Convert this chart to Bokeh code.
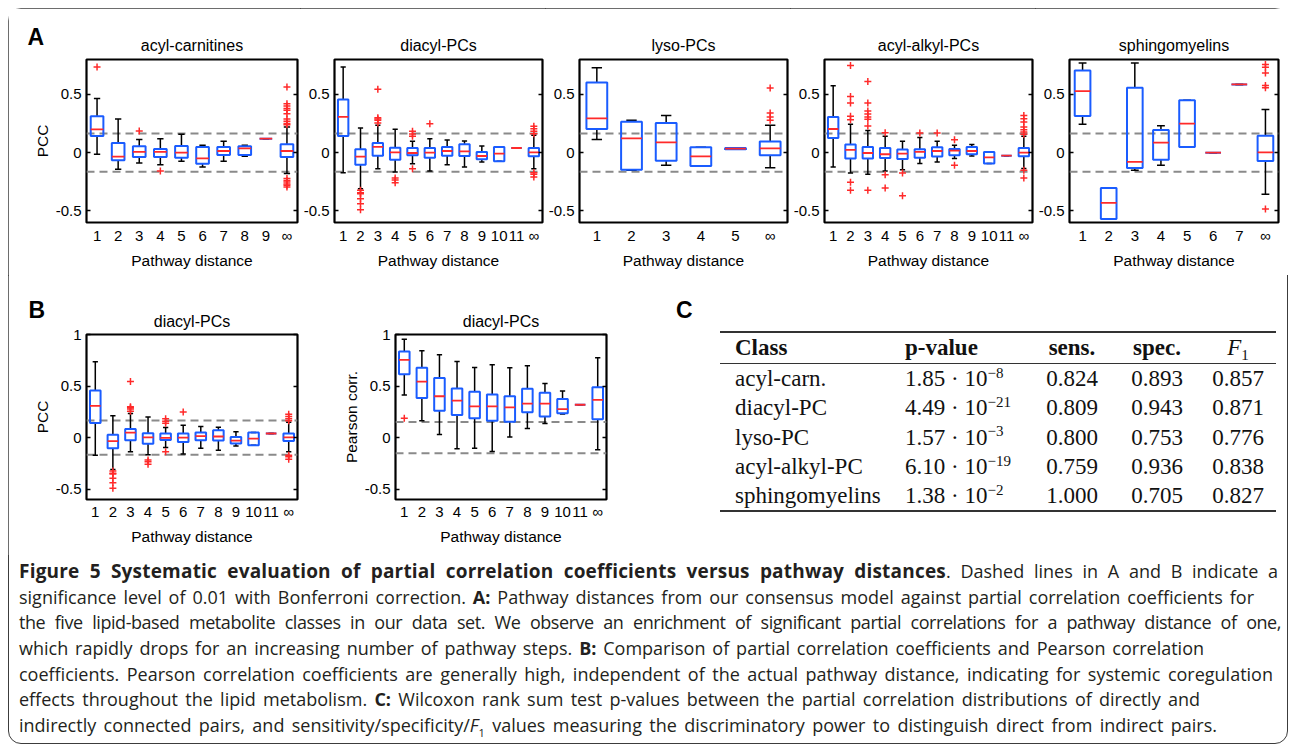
import numpy as np
from bokeh.plotting import figure
from bokeh.models import Range1d, FixedTicker, LinearAxis, Span, Title, Div
from bokeh.layouts import row, column
from bokeh.embed import file_html
from bokeh.resources import INLINE

# ---------------- data ----------------
PCC_SIG = 0.165          # Bonferroni significance level (PCC)
PEARSON_SIG = 0.152      # Bonferroni significance level (Pearson)

# acyl-carnitines (PCC)
AC_LABELS = ["1", "2", "3", "4", "5", "6", "7", "8", "9", "∞"]
AC_WLO = [-0.014, -0.143, -0.089, -0.103, -0.074, -0.123, -0.074, -0.032, 0.12, -0.18]
AC_Q1 = [0.143, -0.066, -0.037, -0.037, -0.043, -0.095, -0.020, -0.020, 0.12, -0.037]
AC_MED = [0.200, -0.034, 0.006, 0.006, 0.000, -0.049, 0.014, 0.037, 0.12, 0.014]
AC_Q3 = [0.312, 0.083, 0.054, 0.032, 0.057, 0.049, 0.049, 0.054, 0.12, 0.072]
AC_WHI = [0.464, 0.289, 0.112, 0.120, 0.158, 0.063, 0.097, 0.063, 0.12, 0.22]
AC_OUT_X = [1, 3, 4, 10, 10, 10, 10, 10, 10, 10, 10, 10, 10, 10, 10, 10, 10, 10, 10]
AC_OUT_Y = [0.736, 0.186, -0.158, 0.564, 0.42, 0.40, 0.38, 0.364, 0.335, 0.29, 0.27,
            0.25, 0.24, -0.223, -0.24, -0.252, -0.27, -0.28, -0.295]

# diacyl-PCs (PCC)
DP_LABELS = ["1", "2", "3", "4", "5", "6", "7", "8", "9", "10", "11", "∞"]
DP_WLO = [-0.172, -0.31, -0.138, -0.166, -0.095, -0.158, -0.103, -0.123, -0.08, -0.074, 0.04, -0.138]
DP_Q1 = [0.143, -0.103, -0.026, -0.060, -0.023, -0.043, -0.026, -0.029, -0.057, -0.074, 0.04, -0.032]
DP_MED = [0.307, -0.034, 0.049, 0.003, -0.003, 0.000, 0.014, 0.011, -0.029, -0.009, 0.04, 0.003]
DP_Q3 = [0.456, 0.029, 0.083, 0.043, 0.040, 0.040, 0.049, 0.072, 0.006, 0.049, 0.04, 0.040]
DP_WHI = [0.736, 0.212, 0.235, 0.200, 0.097, 0.120, 0.109, 0.100, 0.057, 0.049, 0.04, 0.149]
DP_OUT_X = [2, 2, 2, 2, 2, 2, 3, 3, 3, 3, 3, 4, 4, 4, 5, 5, 5, 5, 6, 12, 12, 12, 12, 12, 12, 12]
DP_OUT_Y = [-0.324, -0.345, -0.352, -0.395, -0.438, -0.49, 0.544, 0.30, 0.29, 0.278, 0.255,
            -0.218, -0.235, -0.258, 0.183, 0.16, 0.14, -0.138, 0.249,
            0.226, 0.206, 0.183, 0.163, -0.172, -0.186, -0.209]

# lyso-PCs (PCC)
LP_LABELS = ["1", "2", "3", "4", "5", "∞"]
LP_WLO = [0.112, -0.152, -0.109, -0.115, 0.030, -0.129]
LP_Q1 = [0.203, -0.146, -0.069, -0.115, 0.030, -0.023]
LP_MED = [0.295, 0.123, 0.089, -0.032, 0.035, 0.037]
LP_Q3 = [0.603, 0.266, 0.255, 0.046, 0.040, 0.095]
LP_WHI = [0.730, 0.278, 0.318, 0.046, 0.040, 0.235]
LP_OUT_X = [6, 6, 6, 6]
LP_OUT_Y = [0.556, 0.341, 0.307, 0.278]

# acyl-alkyl-PCs (PCC)
AA_LABELS = ["1", "2", "3", "4", "5", "6", "7", "8", "9", "10", "11", "∞"]
AA_WLO = [-0.123, -0.174, -0.186, -0.157, -0.146, -0.094, -0.080, -0.051, -0.029, -0.094, -0.026, -0.137]
AA_Q1 = [0.126, -0.051, -0.051, -0.046, -0.054, -0.043, -0.034, -0.023, -0.014, -0.094, -0.026, -0.031]
AA_MED = [0.203, 0.023, -0.003, -0.014, -0.009, 0.006, 0.014, 0.017, 0.014, -0.040, -0.026, 0.000]
AA_Q3 = [0.306, 0.071, 0.049, 0.040, 0.026, 0.029, 0.046, 0.031, 0.049, 0.006, -0.026, 0.040]
AA_WHI = [0.574, 0.243, 0.191, 0.140, 0.097, 0.129, 0.097, 0.063, 0.071, 0.006, -0.026, 0.140]
AA_OUT_X = [2, 2, 2, 2, 2, 2, 2, 3, 3, 3, 3, 3, 3, 3, 3, 4, 4, 4, 5, 5, 6, 7, 8, 8,
            12, 12, 12, 12, 12, 12, 12, 12, 12]
AA_OUT_Y = [0.749, 0.483, 0.426, 0.312, 0.283, -0.254, -0.323,
            0.611, 0.426, 0.357, 0.331, 0.306, 0.286, 0.229, -0.323,
            0.171, -0.189, -0.303, -0.174, -0.371, 0.169, 0.169, 0.111, -0.109,
            0.32, 0.291, 0.263, 0.22, 0.197, 0.177, 0.157, -0.151, -0.217]

# sphingomyelins (PCC)
SM_LABELS = ["1", "2", "3", "4", "5", "6", "7", "∞"]
SM_WLO = [0.243, -0.571, -0.151, -0.109, 0.049, 0.0, 0.586, -0.357]
SM_Q1 = [0.314, -0.571, -0.131, -0.060, 0.049, 0.0, 0.586, -0.071]
SM_MED = [0.529, -0.431, -0.080, 0.086, 0.249, 0.0, 0.586, 0.003]
SM_Q3 = [0.706, -0.303, 0.557, 0.194, 0.449, 0.0, 0.586, 0.146]
SM_WHI = [0.771, -0.303, 0.771, 0.231, 0.449, 0.0, 0.586, 0.371]
SM_OUT_X = [8, 8, 8, 8, 8, 8]
SM_OUT_Y = [0.757, 0.734, 0.683, 0.577, 0.557, -0.483]

# diacyl-PCs (Pearson correlation)
PE_LABELS = ["1", "2", "3", "4", "5", "6", "7", "8", "9", "10", "11", "∞"]
PE_WLO = [0.414, 0.164, 0.030, -0.109, -0.102, -0.135, 0.007, 0.089, 0.138, 0.230, 0.319, -0.118]
PE_Q1 = [0.615, 0.385, 0.260, 0.220, 0.188, 0.164, 0.155, 0.247, 0.204, 0.237, 0.319, 0.177]
PE_MED = [0.753, 0.543, 0.401, 0.359, 0.303, 0.303, 0.293, 0.329, 0.329, 0.276, 0.319, 0.367]
PE_Q3 = [0.836, 0.678, 0.579, 0.477, 0.444, 0.418, 0.401, 0.474, 0.434, 0.375, 0.319, 0.489]
PE_WHI = [0.954, 0.842, 0.803, 0.737, 0.681, 0.707, 0.678, 0.697, 0.526, 0.451, 0.319, 0.774]
PE_OUT_X = [1]
PE_OUT_Y = [0.188]

# table C
TAB_CLASS = ["acyl-carn.", "diacyl-PC", "lyso-PC", "acyl-alkyl-PC", "sphingomyelins"]
TAB_P_MANT = ["1.85", "4.49", "1.57", "6.10", "1.38"]
TAB_P_EXP = ["−8", "−21", "−3", "−19", "−2"]
TAB_SENS = ["0.824", "0.809", "0.800", "0.759", "1.000"]
TAB_SPEC = ["0.893", "0.943", "0.753", "0.936", "0.705"]
TAB_F1 = ["0.857", "0.871", "0.776", "0.838", "0.827"]

# ---------------- style ----------------
BLUE = "#1a5cff"
RED = "#ff2a2a"
GRAY = "#8a8a8a"
FONT = "Liberation Sans"
BOXW = 0.6
CAPW = 0.3
A_YLIM = (-0.6, 0.8)
A_TICKS = [-0.5, 0, 0.5]
B_YLIM = (-0.6, 1.0)
B_TICKS = [-0.5, 0, 0.5, 1]
TICK_TEXT = {-0.5: "-0.5", 0: "0", 0.5: "0.5", 1: "1"}


def box_fig(title, labels, wlo, q1, med, q3, whi, ox, oy, ylim, yticks, sig,
            width, height, bl, br, bt, bb, ylabel=None,
            title_standoff=8, tick_standoff=5, xlabel_standoff=8,
            letter=None, letter_offset=0, letter_standoff=0):
    n = len(labels)
    x = np.arange(1, n + 1, dtype=float)
    wlo, q1, med, q3, whi = map(np.asarray, (wlo, q1, med, q3, whi))
    p = figure(width=width, height=height, x_range=Range1d(0.5, n + 0.5),
               y_range=Range1d(ylim[0], ylim[1]), output_backend="svg",
               toolbar_location=None, min_border_left=bl, min_border_right=br,
               min_border_top=bt, min_border_bottom=bb,
               title=letter if letter else None)
    # subplot title (closest to the frame)
    p.add_layout(Title(text=title, align="center", text_font=FONT, text_font_size="16px",
                       text_font_style="normal", text_color="black",
                       standoff=title_standoff), "above")
    # panel letter as the (outermost) plot title, pulled down next to the subplot title
    if letter:
        p.title.align = "left"
        p.title.offset = letter_offset
        p.title.standoff = letter_standoff
        p.title.text_font = FONT
        p.title.text_font_size = "23px"
        p.title.text_font_style = "bold"
        p.title.text_color = "black"
    p.xgrid.visible = False
    p.ygrid.visible = False
    p.outline_line_color = "black"
    p.outline_line_width = 2.2
    p.outline_line_alpha = 1.0
    p.background_fill_color = "white"
    p.border_fill_color = "white"

    xa = p.xaxis[0]
    xa.ticker = FixedTicker(ticks=list(range(1, n + 1)))
    xa.major_label_overrides = {i + 1: lab for i, lab in enumerate(labels)}
    xa.major_tick_line_color = None
    xa.minor_tick_line_color = None
    xa.axis_line_color = None
    xa.major_label_text_font = FONT
    xa.major_label_text_font_size = "15px"
    xa.major_label_text_color = "black"
    xa.major_label_standoff = tick_standoff
    xa.axis_label = "Pathway distance"
    xa.axis_label_text_font = FONT
    xa.axis_label_text_font_size = "15.5px"
    xa.axis_label_text_font_style = "normal"
    xa.axis_label_text_color = "black"
    xa.axis_label_standoff = xlabel_standoff

    ya = p.yaxis[0]
    ya.ticker = FixedTicker(ticks=yticks)
    ya.major_label_overrides = {t: TICK_TEXT[t] for t in yticks}
    ya.major_tick_in = 4
    ya.major_tick_out = 0
    ya.major_tick_line_color = "black"
    ya.major_tick_line_width = 1.5
    ya.minor_tick_line_color = None
    ya.axis_line_color = None
    ya.major_label_text_font = FONT
    ya.major_label_text_font_size = "15px"
    ya.major_label_text_color = "black"
    ya.major_label_standoff = 5
    if ylabel:
        ya.axis_label = ylabel
        ya.axis_label_text_font = FONT
        ya.axis_label_text_font_size = "15.5px"
        ya.axis_label_text_font_style = "normal"
        ya.axis_label_text_color = "black"
        ya.axis_label_standoff = 2

    ra = LinearAxis(ticker=FixedTicker(ticks=yticks),
                    major_label_overrides={t: "" for t in yticks},
                    major_label_text_font_size="1px", major_label_standoff=0,
                    major_tick_in=4, major_tick_out=0, major_tick_line_width=1.5,
                    major_tick_line_color="black", minor_tick_line_color=None,
                    axis_line_color=None)
    p.add_layout(ra, "right")

    for s in (sig, -sig):
        p.add_layout(Span(location=s, dimension="width", line_color=GRAY,
                          line_width=2, line_dash="8 5", level="underlay"))

    # whiskers + caps
    p.segment(x0=x, y0=q3, x1=x, y1=whi, line_color="black", line_width=1.5)
    p.segment(x0=x, y0=q1, x1=x, y1=wlo, line_color="black", line_width=1.5)
    p.segment(x0=x - CAPW / 2, y0=whi, x1=x + CAPW / 2, y1=whi, line_color="black", line_width=1.5)
    p.segment(x0=x - CAPW / 2, y0=wlo, x1=x + CAPW / 2, y1=wlo, line_color="black", line_width=1.5)
    # boxes
    p.vbar(x=x, width=BOXW, top=q3, bottom=q1, fill_color=None,
           line_color=BLUE, line_width=2)
    # medians
    p.segment(x0=x - BOXW / 2, y0=med, x1=x + BOXW / 2, y1=med, line_color=RED, line_width=1.8)
    # outliers
    p.scatter(x=ox, y=oy, marker="cross", size=7, line_color=RED, line_width=1.5)
    return p


# ---------------- panel A ----------------
A_H = 267
A_KW = dict(title_standoff=12, tick_standoff=-2, xlabel_standoff=5)
a1 = box_fig("acyl-carnitines", AC_LABELS, AC_WLO, AC_Q1, AC_MED, AC_Q3, AC_WHI,
             AC_OUT_X, AC_OUT_Y, A_YLIM, A_TICKS, PCC_SIG, 292, A_H, 78, 3, 51, 53,
             ylabel="PCC", letter="A", letter_offset=-59, letter_standoff=-42, **A_KW)
a2 = box_fig("diacyl-PCs", DP_LABELS, DP_WLO, DP_Q1, DP_MED, DP_Q3, DP_WHI,
             DP_OUT_X, DP_OUT_Y, A_YLIM, A_TICKS, PCC_SIG, 245, A_H, 30, 3, 51, 53, **A_KW)
a3 = box_fig("lyso-PCs", LP_LABELS, LP_WLO, LP_Q1, LP_MED, LP_Q3, LP_WHI,
             LP_OUT_X, LP_OUT_Y, A_YLIM, A_TICKS, PCC_SIG, 245, A_H, 32, 3, 51, 53, **A_KW)
a4 = box_fig("acyl-alkyl-PCs", AA_LABELS, AA_WLO, AA_Q1, AA_MED, AA_Q3, AA_WHI,
             AA_OUT_X, AA_OUT_Y, A_YLIM, A_TICKS, PCC_SIG, 245, A_H, 32, 3, 51, 53, **A_KW)
a5 = box_fig("sphingomyelins", SM_LABELS, SM_WLO, SM_Q1, SM_MED, SM_Q3, SM_WHI,
             SM_OUT_X, SM_OUT_Y, A_YLIM, A_TICKS, PCC_SIG, 253, A_H, 33, 10, 51, 53, **A_KW)

# ---------------- panel B ----------------
B_H = 280
B_KW = dict(title_standoff=10, tick_standoff=-3, xlabel_standoff=5)
b1 = box_fig("diacyl-PCs", DP_LABELS, DP_WLO, DP_Q1, DP_MED, DP_Q3, DP_WHI,
             DP_OUT_X, DP_OUT_Y, B_YLIM, B_TICKS, PCC_SIG, 292, B_H, 78, 3, 59, 56,
             ylabel="PCC", letter="B", letter_offset=-58, letter_standoff=-34, **B_KW)
b2 = box_fig("diacyl-PCs", PE_LABELS, PE_WLO, PE_Q1, PE_MED, PE_Q3, PE_WHI,
             PE_OUT_X, PE_OUT_Y, B_YLIM, B_TICKS, PEARSON_SIG, 310, B_H, 95, 4, 59, 56,
             ylabel="Pearson corr.", **B_KW)

# ---------------- panel C (table) ----------------
CELL = "padding:0;height:29.3px;line-height:29.3px;vertical-align:middle;"
sup = "<span style='position:relative;top:-0.55em;font-size:15px;line-height:0;'>{}</span>"
rows_html = ""
for cls, m, e, se, sp, f1 in zip(TAB_CLASS, TAB_P_MANT, TAB_P_EXP, TAB_SENS, TAB_SPEC, TAB_F1):
    rows_html += (
        "<tr>"
        f"<td style='{CELL}text-align:left;padding-left:15px;'>{cls}</td>"
        f"<td style='{CELL}text-align:left;padding-left:10px;'>{m}&nbsp;·&nbsp;10{sup.format(e)}</td>"
        f"<td style='{CELL}text-align:center;'>{se}</td>"
        f"<td style='{CELL}text-align:center;'>{sp}</td>"
        f"<td style='{CELL}text-align:center;'>{f1}</td>"
        "</tr>"
    )
HCELL = "padding:0;height:30px;line-height:30px;vertical-align:middle;border-bottom:1px solid #333;"
table_html = (
    "<div style='position:relative;width:678px;height:280px;margin:0;'>"
    "<div style=\"position:absolute;left:66px;top:24px;font-family:'Liberation Sans';"
    "font-weight:bold;font-size:23px;line-height:23px;color:#000;\">C</div>"
    "<table style=\"position:absolute;left:110px;top:56px;width:556px;border-collapse:collapse;"
    "border-spacing:0;table-layout:fixed;font-family:'Liberation Serif';font-size:23px;"
    "color:#111;border-top:2px solid #333;border-bottom:2px solid #333;\">"
    "<colgroup><col style='width:175px'><col style='width:135px'><col style='width:84px'>"
    "<col style='width:86px'><col style='width:76px'></colgroup>"
    "<tr>"
    f"<th style='{HCELL}text-align:left;padding-left:15px;'>Class</th>"
    f"<th style='{HCELL}text-align:left;padding-left:10px;'>p-value</th>"
    f"<th style='{HCELL}text-align:center;'>sens.</th>"
    f"<th style='{HCELL}text-align:center;'>spec.</th>"
    f"<th style='{HCELL}text-align:center;font-weight:normal;'><i>F</i>"
    "<span style='position:relative;top:0.3em;font-size:15px;line-height:0;'>1</span></th>"
    "</tr>" + rows_html + "</table></div>"
)
table_div = Div(text=table_html, width=678, height=B_H, margin=(0, 0, 0, 0))

# ---------------- caption ----------------
CAPTION_LINES = [
    "<b style='font-size:19px;letter-spacing:0.2px;'>Figure 5 Systematic evaluation of partial correlation coefficients versus pathway distances</b>. Dashed lines in A and B indicate a",
    "significance level of 0.01 with Bonferroni correction. <b>A:</b> Pathway distances from our consensus model against partial correlation coefficients for",
    "the five lipid-based metabolite classes in our data set. We observe an enrichment of significant partial correlations for a pathway distance of one,",
    "which rapidly drops for an increasing number of pathway steps. <b>B:</b> Comparison of partial correlation coefficients and Pearson correlation",
    "coefficients. Pearson correlation coefficients are generally high, independent of the actual pathway distance, indicating for systemic coregulation",
    "effects throughout the lipid metabolism. <b>C:</b> Wilcoxon rank sum test p-values between the partial correlation distributions of directly and",
    "indirectly connected pairs, and sensitivity/specificity/<i>F</i><sub style='font-size:11px;line-height:0;'>1</sub> values measuring the discriminatory power to distinguish direct from indirect pairs.",
]
CAPTION_WIDTHS = [1259, 1235, 1262, 1185, 1254, 1181, 1198]
CAPTION_SPACING = ["0", "0", "-0.45px", "0", "0", "0", "0"]
caption_lines_html = "".join(
    f"<div style='width:{w}px;height:25.7px;line-height:25.7px;white-space:nowrap;"
    f"text-align:justify;text-align-last:justify;letter-spacing:{ls};'>{t}</div>"
    for t, w, ls in zip(CAPTION_LINES, CAPTION_WIDTHS, CAPTION_SPACING)
)
caption_html = (
    "<div style=\"font-family:'Open Sans';font-size:18px;color:#231f20;"
    "padding:4px 0 0 11px;\">" + caption_lines_html + "</div>"
)
caption = Div(text=caption_html, width=1280, height=189, margin=(0, 0, 0, 0))

layout = column(
    row(a1, a2, a3, a4, a5),
    row(b1, b2, table_div),
    caption,
    margin=(8, 0, 0, 8),
    styles={"outline": "1.5px solid #3c3c3c", "outline-offset": "-1px",
            "border-radius": "13px", "background": "white"},
)

open("out.html", "w").write(file_html(layout, INLINE, title="Figure 5"))
